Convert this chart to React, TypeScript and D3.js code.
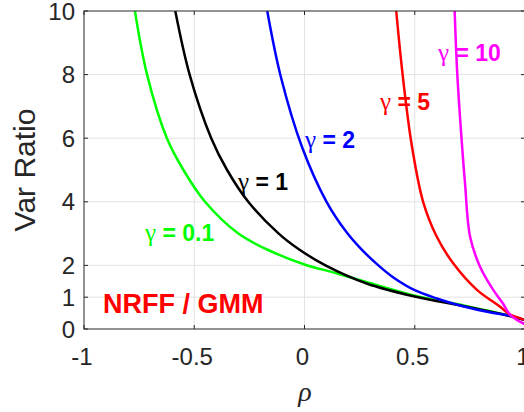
import React from "react";
import * as d3 from "d3";

// ---- data ----
const rhoG01 = [-0.769, -0.714, -0.624, -0.549, -0.451, -0.3, -0.17, 0.0, 0.13, 0.28, 0.5, 0.736, 0.93, 1.0];
const valG01 = [10, 8, 6, 5, 4, 3, 2.5, 2.03, 1.78, 1.48, 1.05, 0.72, 0.42, 0.28];

const rhoG1 = [-0.586, -0.521, -0.423, -0.351, -0.255, -0.117, -0.024, 0.095, 0.282, 0.5, 0.736, 0.93, 1.0];
const valG1 = [10, 8, 6, 5, 4, 3, 2.5, 2.0, 1.43, 1.02, 0.7, 0.41, 0.28];

const rhoG2 = [-0.169, -0.108, -0.01, 0.1, 0.191, 0.252, 0.335, 0.403, 0.5, 0.6, 0.705, 0.856, 0.93, 1.0];
const valG2 = [10, 7.95, 5.7, 4.0, 3.04, 2.55, 2.0, 1.62, 1.22, 0.96, 0.74, 0.5, 0.42, 0.28];

const rhoG5 = [0.416, 0.445, 0.486, 0.538, 0.6, 0.676, 0.782, 0.887, 0.93, 0.96, 1.0];
const valG5 = [10, 8, 5.8, 4, 2.9, 2.05, 1.23, 0.7, 0.46, 0.38, 0.28];

const rhoG10 = [0.681, 0.693, 0.716, 0.728, 0.751, 0.796, 0.856, 0.9, 0.932, 0.96, 1.0];
const valG10 = [10, 8, 5.63, 4.58, 2.9, 1.96, 1.23, 0.8, 0.45, 0.3, 0.15];

const seriesNames = ["0.1", "1", "2", "5", "10"];
const seriesColors = ["#00ff00", "#000000", "#0000ff", "#ff0000", "#ff00ff"];

const xTicks = [-1, -0.5, 0, 0.5, 1];
const xTickLabels = ["-1", "-0.5", "0", "0.5", "1"];
const yTicks = [0, 1, 2, 4, 6, 8, 10];
const yTickLabels = ["0", "1", "2", "4", "6", "8", "10"];

const xLabel = "ρ";
const yLabel = "Var Ratio";
const noteText = "NRFF / GMM";

export default function App() {
  const W = 524;
  const H = 412;
  const left = 84;
  const right = 525;
  const top = 11;
  const bottom = 329;

  const x = d3.scaleLinear().domain([-1, 1]).range([left, right]);
  const y = d3.scaleLinear().domain([0, 10]).range([bottom, top]);

  const line = d3
    .line<[number, number]>()
    .x((d) => x(d[0]))
    .y((d) => y(d[1]))
    .curve(d3.curveCatmullRom.alpha(0.5));

  const series = [
    [rhoG01, valG01],
    [rhoG1, valG1],
    [rhoG2, valG2],
    [rhoG5, valG5],
    [rhoG10, valG10],
  ].map(([r, v]) => r.map((rv, i) => [rv, v[i]] as [number, number]));

  // label anchor positions (left of text, baseline), converted through the scales
  const labelPos: [number, number][] = [
    [x.invert(145), y.invert(241)],
    [x.invert(238), y.invert(190)],
    [x.invert(305), y.invert(148)],
    [x.invert(380), y.invert(110)],
    [x.invert(438), y.invert(61)],
  ];

  const axisColor = "#262626";
  const gridColor = "#e3e3e3";
  const tickLen = 4;
  const font = "'Liberation Sans', Arial, Helvetica, sans-serif";
  const serif = "'Liberation Serif', 'Times New Roman', serif";

  return (
    <svg
      width={W}
      height={H}
      style={{ position: "absolute", left: 0, top: 0, background: "#fff" }}
    >
      <rect x={0} y={0} width={W} height={H} fill="#fff" />
      <defs>
        <clipPath id="plotClip">
          <rect x={left} y={top} width={right - left} height={bottom - top} />
        </clipPath>
      </defs>
      {/* grid */}
      {xTicks.slice(1, -1).map((t) => (
        <line key={"gx" + t} x1={x(t)} x2={x(t)} y1={top} y2={bottom} stroke={gridColor} strokeWidth={1} />
      ))}
      {yTicks.slice(1, -1).map((t) => (
        <line key={"gy" + t} x1={left} x2={right} y1={y(t)} y2={y(t)} stroke={gridColor} strokeWidth={1} />
      ))}
      {/* curves */}
      <g clipPath="url(#plotClip)">
        {series.map((s, i) => (
          <path key={"s" + i} d={line(s) || ""} fill="none" stroke={seriesColors[i]} strokeWidth={2.5} />
        ))}
      </g>
      {/* box */}
      <rect x={left} y={top} width={right - left} height={bottom - top} fill="none" stroke={axisColor} strokeWidth={1} />
      {/* ticks */}
      {xTicks.map((t) => (
        <g key={"tx" + t}>
          <line x1={x(t)} x2={x(t)} y1={bottom} y2={bottom - tickLen} stroke={axisColor} />
          <line x1={x(t)} x2={x(t)} y1={top} y2={top + tickLen} stroke={axisColor} />
        </g>
      ))}
      {yTicks.map((t) => (
        <g key={"ty" + t}>
          <line x1={left} x2={left + tickLen} y1={y(t)} y2={y(t)} stroke={axisColor} />
          <line x1={right} x2={right - tickLen} y1={y(t)} y2={y(t)} stroke={axisColor} />
        </g>
      ))}
      {/* tick labels */}
      {xTicks.map((t, i) => (
        <text key={"lx" + t} x={x(t) - 2} y={365} textAnchor="middle" fontFamily={font} fontSize={24} fill={axisColor}>
          {xTickLabels[i]}
        </text>
      ))}
      {yTicks.map((t, i) => (
        <text key={"ly" + t} x={75} y={y(t)} dy="0.36em" textAnchor="end" fontFamily={font} fontSize={24} fill={axisColor}>
          {yTickLabels[i]}
        </text>
      ))}
      {/* axis labels */}
      <text
        transform={`translate(35,170) rotate(-90)`}
        textAnchor="middle"
        fontFamily={font}
        fontSize={30}
        fill={axisColor}
      >
        {yLabel}
      </text>
      <text x={305} y={401} textAnchor="middle" fontFamily={serif} fontStyle="italic" fontSize={28} fill={axisColor}>
        {xLabel}
      </text>
      {/* series labels */}
      {seriesNames.map((n, i) => (
        <text key={"sl" + i} x={x(labelPos[i][0])} y={y(labelPos[i][1])} fill={seriesColors[i]} fontSize={23}>
          <tspan fontFamily={serif} fontSize={25}>γ</tspan>
          <tspan fontFamily={font} fontWeight="bold">{" = " + n}</tspan>
        </text>
      ))}
      <text x={103} y={313} fill="#ff0000" fontFamily={font} fontWeight="bold" fontSize={27}>
        {noteText}
      </text>
    </svg>
  );
}
